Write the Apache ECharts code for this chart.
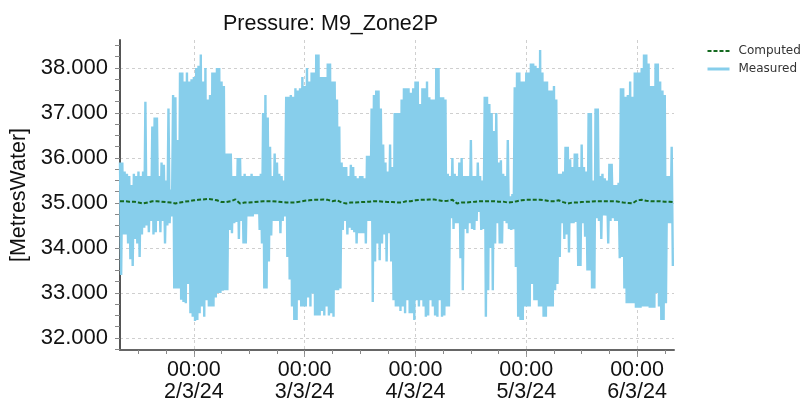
<!DOCTYPE html>
<html>
<head>
<meta charset="utf-8">
<script src="https://cdn.jsdelivr.net/npm/echarts@6/dist/echarts.min.js"></script>
<style>
  html, body { margin: 0; padding: 0; background: #ffffff; }
  #chart { width: 805px; height: 406px; }
</style>
</head>
<body>
<div id="chart"></div>
<script>
// Pressure logger M9_Zone2P, 1/3/24 08:00 to 6/3/24 08:00
const chartTitle = 'Pressure: M9_Zone2P';
const unitLabel = '[MetresWater]';
const seriesNames = ['Computed', 'Measured'];

const startTime = new Date(2024, 2, 1, 8, 0).getTime();
const endTime = new Date(2024, 2, 6, 8, 0).getTime();
const HOUR = 3600 * 1000;

// Measured: high / low reading in each 30-minute block
const measuredHigh = [
  35.9,35.9,35.7,35.65,35.6,35.4,35.65,35.6,35.7,35.6,35.7,37.25,35.6,35.6,36.7,36.9,
  36.9,35.6,35.9,35.85,35.5,37.1,35.3,37.4,37.35,36.4,37.9,37.9,37.7,37.9,37.7,37.75,
  37.8,38.0,38.05,38.3,37.7,38.0,37.3,37.4,37.9,37.9,38.0,38.0,37.7,37.6,36.1,36.1,
  36.1,35.6,35.6,36.0,36.0,35.6,35.65,35.6,35.6,35.65,35.6,35.6,35.6,35.65,37.0,37.4,
  36.9,36.25,35.6,36.1,35.9,35.65,35.6,35.5,37.36,37.36,37.4,37.36,37.55,37.5,37.55,37.8,
  37.6,38.0,37.7,37.9,37.9,38.3,38.3,37.8,37.8,37.8,38.1,38.1,37.7,37.7,37.3,36.7,
  35.9,35.8,35.8,35.6,35.85,35.8,35.6,35.55,35.6,35.6,35.55,36.05,36.05,37.1,37.4,37.5,
  37.5,37.1,36.3,35.9,35.7,36.3,35.8,37.0,37.0,37.0,37.3,37.55,37.55,37.55,37.45,37.55,
  37.7,37.7,37.2,37.55,37.55,37.7,37.35,37.3,37.3,38.0,38.0,37.35,37.35,37.3,35.65,35.6,
  36.0,35.65,35.6,35.9,36.0,35.6,35.6,35.6,36.4,35.6,35.6,35.9,35.6,35.5,37.36,37.36,
  37.2,37.0,36.6,37.0,35.9,35.95,35.65,35.6,36.4,35.15,35.2,37.57,37.9,37.9,37.7,37.7,
  37.9,37.9,38.1,38.1,38.05,38.0,38.4,37.9,37.7,37.7,37.5,37.5,37.6,37.3,35.65,35.65,
  35.7,36.25,36.25,35.97,35.8,36.1,36.1,35.8,36.3,35.8,35.7,37.0,37.0,35.5,37.1,37.1,
  35.6,35.65,35.55,35.5,35.87,35.87,35.4,35.4,35.45,37.55,37.55,37.36,37.4,37.7,37.36,37.9,
  37.9,37.9,38.0,38.3,38.3,38.1,37.6,37.6,38.1,38.1,37.7,37.5,37.4,35.6,35.6,36.25
];
const measuredLow = [
  33.4,34.3,34.3,34.1,33.75,33.6,34.2,34.1,33.8,34.3,34.45,34.5,34.35,34.6,34.3,34.35,
  34.6,34.35,34.6,34.1,34.5,34.55,34.7,33.1,33.1,33.1,32.85,32.8,32.77,33.2,32.55,32.47,
  32.38,32.4,32.55,32.7,32.47,32.84,32.7,32.7,32.7,32.9,33.0,33.0,33.05,33.06,33.06,34.4,
  34.33,34.55,34.58,34.2,34.6,34.1,34.1,34.7,34.7,34.7,34.75,34.75,34.4,34.1,33.1,33.1,
  33.7,34.28,34.6,34.6,34.6,34.33,34.6,34.7,33.8,33.3,32.7,32.4,32.4,32.84,32.7,32.7,
  32.7,32.9,32.7,32.99,32.5,32.5,32.5,32.6,32.5,32.7,32.5,32.55,32.47,33.06,33.06,33.1,
  34.4,34.6,34.3,34.45,34.4,34.35,34.1,34.33,34.33,34.33,34.1,34.6,34.6,32.8,33.7,34.1,
  33.73,34.1,34.3,33.7,34.33,33.7,32.84,32.7,32.7,32.6,32.7,32.55,32.84,32.55,32.55,32.4,
  32.84,32.7,32.84,32.7,32.47,32.5,32.84,32.7,32.5,32.47,32.84,32.47,32.5,32.7,32.7,34.66,
  34.42,34.55,34.55,33.77,33.06,34.42,34.33,34.55,34.42,34.4,34.6,34.8,34.4,34.42,32.47,33.06,
  34.0,33.06,34.1,34.55,34.1,34.1,34.6,34.55,34.42,34.4,34.42,33.58,32.47,32.4,32.4,32.7,
  32.7,32.7,33.2,32.84,32.84,32.7,32.7,32.47,32.47,32.7,32.7,32.7,33.06,33.2,33.8,34.55,
  34.2,34.3,33.9,34.55,34.55,34.58,33.6,33.6,34.55,34.25,33.5,33.5,33.1,33.1,34.66,34.6,
  34.2,34.72,34.72,34.1,34.6,34.66,34.6,34.6,33.77,33.8,33.1,32.77,32.77,32.77,32.77,32.67,
  32.67,32.67,32.7,32.7,32.7,32.67,32.67,32.67,33.0,32.7,32.4,32.4,32.77,34.55,34.55,33.6
];

// Computed: hourly model values
const computedHourly = [
  35.04,35.04,35.03,35.03,35.01,34.99,35.01,35.04,35.04,35.03,35.02,35.01,34.99,35.01,35.03,35.04,
  35.06,35.07,35.08,35.09,35.08,35.06,35.02,35.02,35.04,35.08,34.99,35.01,35.01,35.02,35.03,35.04,
  35.04,35.04,35.03,35.02,35.01,35.01,35.01,35.03,35.05,35.06,35.07,35.07,35.08,35.07,35.04,35.06,
  35.01,34.99,35.01,35.01,35.02,35.02,35.03,35.04,35.04,35.03,35.02,35.02,35.01,35.01,35.04,35.04,
  35.06,35.07,35.07,35.08,35.08,35.06,35.04,35.05,35.07,34.99,35.01,35.01,35.02,35.03,35.04,35.04,
  35.04,35.04,35.03,35.03,35.01,35.02,35.04,35.06,35.07,35.07,35.07,35.07,35.06,35.04,35.04,35.06,
  35.02,34.99,35.01,35.01,35.02,35.03,35.03,35.04,35.04,35.04,35.04,35.04,35.03,35.01,35.00,34.99,
  35.06,35.07,35.05,35.04,35.04,35.04,35.03,35.03,35.02
];

// Axis ticks
const yLabelValues = [32, 33, 34, 35, 36, 37, 38];
const yMin = 31.733, yMax = 38.622;
const labelDays = [2, 3, 4, 5, 6]; // March 2024, 00:00

const dayTicks = labelDays.map(d => new Date(2024, 2, d, 0, 0).getTime());
const sixHourTicks = [];
for (let t = new Date(2024, 2, 1, 12, 0).getTime(); t <= endTime; t += 6 * HOUR) sixHourTicks.push(t);
const yMinorTicks = [];
for (let v = 31.75; v <= yMax; v += 0.25) yMinorTicks.push(+v.toFixed(2));

const measuredData = [];
measuredHigh.forEach((hi, i) => {
  const t = startTime + i * 0.5 * HOUR;
  measuredData.push([t, hi]);
  measuredData.push([t + 0.25 * HOUR, measuredLow[i]]);
});
const computedData = computedHourly.map((v, h) => [startTime + h * HOUR, v]);

const pad = n => (n < 10 ? '0' : '') + n;
const fmtTime = val => {
  const d = new Date(val);
  return pad(d.getHours()) + ':' + pad(d.getMinutes()) + '\n' +
    d.getDate() + '/' + (d.getMonth() + 1) + '/' + String(d.getFullYear()).slice(2);
};

const FONT = '"Liberation Sans", Arial, sans-serif';
const GREEN = '#14691f';
const BLUE = '#87ceeb';
const chart = echarts.init(document.getElementById('chart'), null, { renderer: 'canvas' });

chart.setOption({
  animation: false,
  backgroundColor: '#ffffff',
  title: {
    text: chartTitle,
    left: 218,
    top: 8,
    textStyle: { fontFamily: FONT, fontSize: 21.5, fontWeight: 'normal', color: '#111' }
  },
  legend: {
    orient: 'vertical',
    left: 706,
    top: 45,
    padding: 0,
    itemWidth: 22,
    itemHeight: 14,
    itemGap: 6,
    textStyle: { fontFamily: '"DejaVu Sans", Verdana, sans-serif', fontSize: 12, color: '#333', padding: [0, 0, 0, 4] },
    data: [
      { name: 'Computed', itemStyle: { color: 'rgba(0,0,0,0)', borderWidth: 0 }, lineStyle: { color: GREEN, width: 2, type: [4, 2] } },
      { name: 'Measured', itemStyle: { color: 'rgba(0,0,0,0)', borderWidth: 0 }, lineStyle: { color: BLUE, width: 3 } }
    ]
  },
  grid: { left: 120, right: 131, top: 40, bottom: 56, outerBoundsMode: 'none', containLabel: false },
  xAxis: [
    {
      type: 'value',
      min: startTime,
      max: endTime,
      axisLine: { show: true, lineStyle: { color: '#666', width: 2 } },
      axisTick: { show: true, length: 7, customValues: dayTicks, lineStyle: { color: '#999' } },
      axisLabel: {
        customValues: dayTicks,
        formatter: fmtTime,
        fontFamily: FONT, fontSize: 21.5, color: '#111', lineHeight: 22, margin: 9
      },
      splitLine: { show: true, lineStyle: { color: '#cfcfcf', type: [3, 3], width: 1 } }
    },
    {
      type: 'value',
      min: startTime,
      max: endTime,
      position: 'bottom',
      axisLine: { show: false },
      axisTick: { show: true, length: 4, customValues: sixHourTicks, lineStyle: { color: '#888' } },
      axisLabel: { show: false },
      splitLine: { show: false }
    }
  ],
  yAxis: [
    {
      type: 'value',
      min: yMin,
      max: yMax,
      name: unitLabel,
      nameLocation: 'middle',
      nameRotate: 90,
      nameGap: 90,
      nameTextStyle: { fontFamily: FONT, fontSize: 21.5, color: '#111' },
      axisLine: { show: true, lineStyle: { color: '#555', width: 2 } },
      axisTick: { show: false, customValues: yLabelValues },
      axisLabel: {
        customValues: yLabelValues,
        formatter: v => v.toFixed(3),
        fontFamily: FONT, fontSize: 22, color: '#111', margin: 12
      },
      splitLine: { show: true, lineStyle: { color: '#cfcfcf', type: [3, 3], width: 1 } }
    },
    {
      type: 'value',
      min: yMin,
      max: yMax,
      position: 'left',
      axisLine: { show: false },
      axisTick: { show: true, length: 5, customValues: yMinorTicks, lineStyle: { color: '#888' } },
      axisLabel: { show: false },
      splitLine: { show: false }
    }
  ],
  series: [
    {
      name: 'Measured',
      type: 'line',
      xAxisIndex: 0,
      yAxisIndex: 0,
      data: measuredData,
      showSymbol: false,
      symbol: 'none',
      sampling: null,
      lineStyle: { color: BLUE, width: 2.4, join: 'bevel' },
      itemStyle: { color: BLUE },
      z: 2
    },
    {
      name: 'Computed',
      type: 'line',
      xAxisIndex: 0,
      yAxisIndex: 0,
      data: computedData,
      showSymbol: false,
      symbol: 'none',
      smooth: false,
      lineStyle: { color: GREEN, width: 2, type: [4, 2] },
      itemStyle: { color: GREEN },
      z: 3
    }
  ]
});
</script>
</body>
</html>
